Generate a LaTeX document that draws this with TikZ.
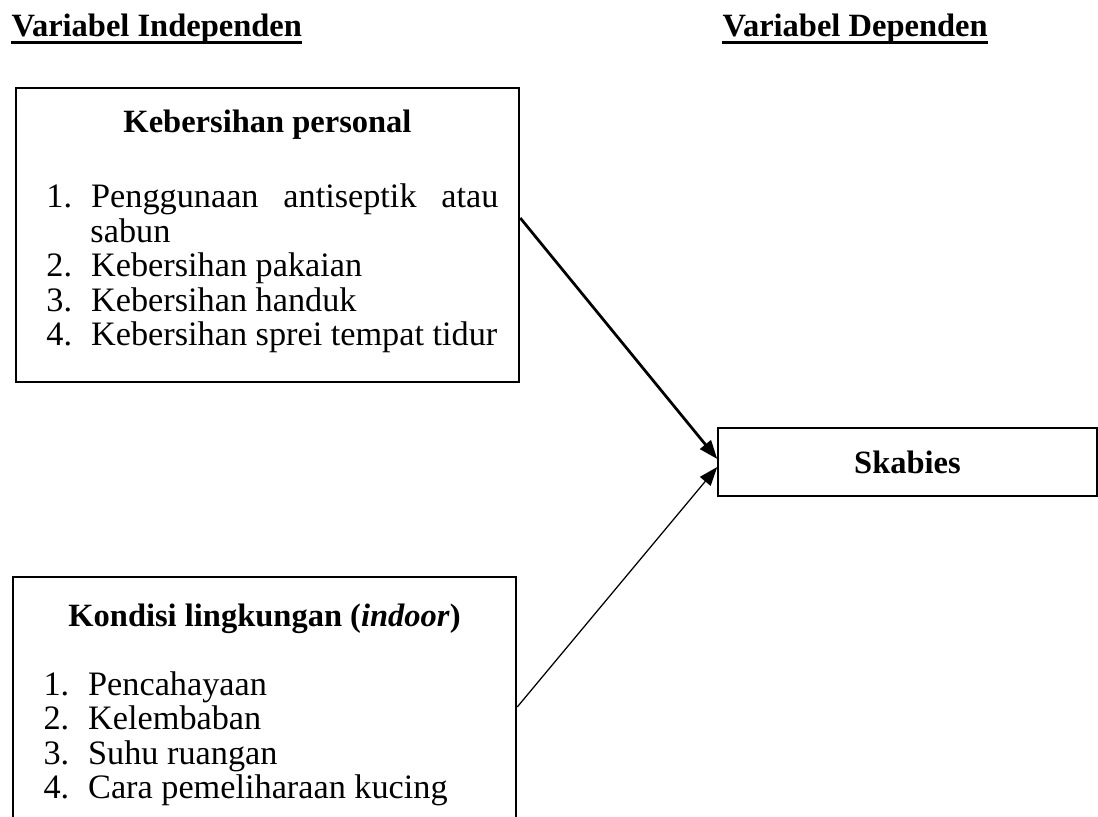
\documentclass[tikz,border=0pt]{standalone}
\usepackage{fontspec}
\setmainfont{Liberation Serif}
\usetikzlibrary{arrows.meta,positioning}

\newenvironment{daftarbutir}{%
  \begin{list}{\arabic{enumi}.}{\usecounter{enumi}%
    \setlength{\leftmargin}{17.6pt}\setlength{\labelwidth}{10pt}%
    \setlength{\labelsep}{7.6pt}\setlength{\itemsep}{0pt}%
    \setlength{\parsep}{0pt}\setlength{\topsep}{0pt}%
    \setlength{\partopsep}{0pt}\setlength{\rightmargin}{0pt}}}%
  {\end{list}}

\begin{document}
\begin{tikzpicture}[x=0.4pt, y=-0.4pt,
			font=\fontsize{13}{13.8}\selectfont,
			kotak/.style={draw, rectangle, line width=1pt, inner sep=0pt},
			judul/.style={font=\fontsize{13}{13.8}\selectfont\bfseries, inner sep=0pt, anchor=base},
			daftar/.style={text width=180.8pt, align=justify, inner sep=0pt, anchor=north west,
				font=\fontsize{13.7}{13.8}\selectfont},
			panah/.style={-{Triangle[length=7.5pt, width=5.5pt]}}]
			\useasboundingbox (0,0) rectangle (1098,817);
			\clip (0,0) rectangle (1098,817);
			
			\node[judul, anchor=base west] (indep) at (11,37) {Variabel Independen};
			\node[judul, anchor=base west] (dep) at (722,37) {Variabel Dependen};
			\draw[line width=1.4pt] ([yshift=-2.2pt]indep.base west) -- ([yshift=-2.2pt]indep.base east);
			\draw[line width=1.4pt] ([yshift=-2.2pt]dep.base west) -- ([yshift=-2.2pt]dep.base east);
			
			\node[kotak, minimum width=201.2pt, minimum height=117.6pt] (personal) at (267.5,235) {};
			\node[judul] (judulkp) at (267.5,133) {Kebersihan personal};
			\node[daftar] (isikp) at (46,173) {\begin{daftarbutir}
					\item Penggunaan antiseptik atau\linebreak sabun
					\item Kebersihan pakaian
					\item Kebersihan handuk
					\item Kebersihan sprei tempat tidur
				\end{daftarbutir}};
			
			\node[kotak, minimum width=201.2pt, minimum height=104pt] (lingkungan) at (264.5,707) {};
			\node[judul] (judullk) at (264.5,626) {Kondisi lingkungan (\textit{indoor})};
			\node[daftar] (isilk) at (43,660) {\begin{daftarbutir}
					\item Pencahayaan
					\item Kelembaban
					\item Suhu ruangan
					\item Cara pemeliharaan kucing
				\end{daftarbutir}};
			
			\node[kotak, line width=0.6pt, minimum width=151.6pt, minimum height=27.2pt,
				font=\fontsize{13}{13.8}\selectfont\bfseries] (skabies) at (907.5,462) {Skabies};
			
			\draw[panah, line width=1.1pt] ([yshift=6.8pt]personal.east) -- ([yshift=1.2pt]skabies.west);
			\draw[panah, line width=0.5pt] (lingkungan.east) -- ([yshift=-2pt]skabies.west);
		\end{tikzpicture}
\end{document}
